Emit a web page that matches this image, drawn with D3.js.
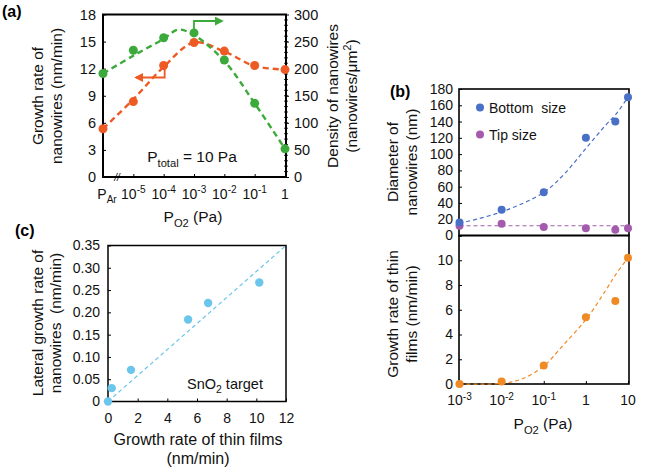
<!DOCTYPE html>
<html>
<head>
<meta charset="utf-8">
<script src="https://cdn.jsdelivr.net/npm/d3@7"></script>
<style>
  body { margin: 0; background: #fff; }
  svg { font-family: "Liberation Sans", Arial, sans-serif; }
</style>
</head>
<body>
<div id="winArea"></div>
<script>
// ---- panel (a) data ----
const aPressure = [1e-6, 1e-5, 1e-4, 1e-3, 1e-2, 1e-1, 1];   // 1e-6 stands in for "P_Ar"
const aTickLabels = ["P_{Ar}", "10^{-5}", "10^{-4}", "10^{-3}", "10^{-2}", "10^{-1}", "1"];
const aGrowth = [5.35, 8.35, 12.35, 14.9, 13.95, 12.35, 11.9];
const aDensity = [191, 234, 257, 266, 216, 136, 52];
const aGrowthFitX = [1e-6, 1e-5, 1e-4, 1e-3, 1e-2, 1e-1, 1];
const aGrowthFit = [5.35, 8.6, 12.2, 14.9, 13.9, 12.3, 11.9];
const aDensityFitX = [1e-6, 1e-5, 1e-4, 3e-4, 1e-3, 1e-2, 1e-1, 1];
const aDensityFit = [191, 224, 255, 272, 262, 214, 136, 52];
const aLeftTicks = [0, 3, 6, 9, 12, 15, 18];
const aRightTicks = [0, 50, 100, 150, 200, 250, 300];

// ---- panel (b) data ----
const bPressure = [1e-3, 1e-2, 1e-1, 1, 5, 10];
const bTickLabels = ["10^{-3}", "10^{-2}", "10^{-1}", "1", "10"];
const bTickVals = [1e-3, 1e-2, 1e-1, 1, 10];
const bBottom = [16, 31.5, 53, 120, 140, 170];
const bTip = [12, 14.5, 10.5, 9, 7, 9];
const bBottomFitX = [1e-3, 1e-2, 1e-1, 0.3, 1, 3, 5, 10];
const bBottomFit = [15, 29, 53, 75, 107, 136, 148, 170];
const bTipFit = [12, 12];
const bFilm = [0, 0.2, 1.5, 5.4, 6.7, 10.2];
const bFilmFitX = [1e-3, 1e-2, 3e-2, 1e-1, 0.3, 1, 3, 5, 10];
const bFilmFit = [0, 0.05, 0.4, 1.45, 3.2, 5.2, 7.6, 8.8, 10.2];
const bTopTicks = [0, 20, 40, 60, 80, 100, 120, 140, 160, 180];
const bLowTicks = [0, 2, 4, 6, 8, 10, 12];

// ---- panel (c) data ----
const cFilm = [0, 0.25, 1.55, 5.4, 6.75, 10.2];
const cLateral = [0, 0.03, 0.071, 0.184, 0.221, 0.267];
const cFitX = [0, 12];
const cFitY = [0, 0.35];
const cXTicks = [0, 2, 4, 6, 8, 10, 12];
const cYTicks = [0, 0.05, 0.10, 0.15, 0.20, 0.25, 0.30, 0.35];

const orangeA = "#ee5a24", greenA = "#3caa3a";
const blueB = "#4a6fc6", purpleB = "#a45bae", orangeB = "#f08a24";
const blueC = "#6cc5ea";

const svg = d3.select("#winArea").append("svg")
  .attr("width", 648).attr("height", 472);

// writes "10^{-3}" / "P_{Ar}" as text with tspans
function richText(sel, str, size) {
  const parts = str.split(/([\^_]\{[^}]*\})/).filter(s => s.length);
  let shift = 0;
  parts.forEach(p => {
    if (p[0] === "^" || p[0] === "_") {
      const up = p[0] === "^";
      const dy = up ? -size * 0.38 : size * 0.3;
      sel.append("tspan").attr("dy", dy - shift).attr("font-size", size * 0.72).text(p.slice(2, -1));
      shift = dy;
    } else {
      sel.append("tspan").attr("dy", -shift).text(p);
      shift = 0;
    }
  });
}

function frame(x0, y0, x1, y1, w) {
  svg.append("rect").attr("x", x0).attr("y", y0)
    .attr("width", x1 - x0).attr("height", y1 - y0)
    .attr("fill", "none").attr("stroke", "#000").attr("stroke-width", w);
}

function styleAxis(g, fs) {
  g.select(".domain").remove();
  g.selectAll(".tick line").attr("stroke", "#000").attr("stroke-width", 1);
  g.selectAll(".tick text").attr("font-size", fs).attr("fill", "#111");
}

function vLabel(x, y, txt, fs) {
  const t = svg.append("text").attr("transform", `translate(${x},${y}) rotate(-90)`)
    .attr("text-anchor", "middle").attr("font-size", fs).attr("fill", "#111");
  richText(t, txt, fs);
  return t;
}

function hText(x, y, txt, fs, anchor) {
  const t = svg.append("text").attr("x", x).attr("y", y)
    .attr("text-anchor", anchor || "middle").attr("font-size", fs).attr("fill", "#111");
  richText(t, txt, fs);
  return t;
}

// ================= panel (a) =================
const xA = d3.scaleLog().domain([1e-6, 1]).range([103, 285]);
const yA = d3.scaleLinear().domain([0, 18]).range([177, 14.5]);
const yA2 = d3.scaleLinear().domain([0, 300]).range([177, 14.5]);

let g = svg.append("g").attr("transform", "translate(103,0)")
  .call(d3.axisLeft(yA).tickValues(aLeftTicks).tickSize(-3).tickPadding(7));
styleAxis(g, 14.5);

g = svg.append("g").attr("transform", "translate(286,0)")
  .call(d3.axisRight(yA2).tickValues(aRightTicks).tickSize(3).tickPadding(5));
styleAxis(g, 14.5);
// minor ticks on right axis
svg.append("g").selectAll("line")
  .data(d3.range(10, 300, 10))
  .join("line")
  .attr("x1", 284).attr("x2", 288)
  .attr("y1", d => yA2(d)).attr("y2", d => yA2(d))
  .attr("stroke", "#000").attr("stroke-width", 0.8);

g = svg.append("g").attr("transform", "translate(0,177)")
  .call(d3.axisBottom(xA).tickValues(aPressure.slice(1)).tickSize(-3).tickFormat(""));
styleAxis(g, 14);
aPressure.forEach((v, i) => {
  hText(xA(v) + (i === 0 ? 4 : 0), 198.5, aTickLabels[i], 14);
});
frame(103, 14.5, 286, 177, 2);
// axis break mark
svg.append("text").attr("x", 117).attr("y", 181).attr("text-anchor", "middle")
  .attr("font-size", 10).attr("font-style", "italic").text("//");

const lineA = d3.line().curve(d3.curveCatmullRom.alpha(0.5));
svg.append("path")
  .attr("d", lineA(aGrowthFitX.map((v, i) => [xA(v), yA(aGrowthFit[i])])))
  .attr("fill", "none").attr("stroke", orangeA).attr("stroke-width", 2.4).attr("stroke-dasharray", "6,4");
svg.append("path")
  .attr("d", lineA(aDensityFitX.map((v, i) => [xA(v), yA2(aDensityFit[i])])))
  .attr("fill", "none").attr("stroke", greenA).attr("stroke-width", 2.4).attr("stroke-dasharray", "6,4");

svg.append("g").selectAll("circle").data(aPressure).join("circle")
  .attr("cx", d => xA(d)).attr("cy", (d, i) => yA(aGrowth[i])).attr("r", 4.5).attr("fill", orangeA);
svg.append("g").selectAll("circle").data(aPressure).join("circle")
  .attr("cx", d => xA(d)).attr("cy", (d, i) => yA2(aDensity[i])).attr("r", 4.5).attr("fill", greenA);

// arrows pointing to the axes
svg.append("defs").html(
  `<marker id="arG" viewBox="0 0 10 10" refX="8" refY="5" markerWidth="5" markerHeight="5" orient="auto"><path d="M0,0L10,5L0,10z" fill="${greenA}"/></marker>` +
  `<marker id="arO" viewBox="0 0 10 10" refX="8" refY="5" markerWidth="5" markerHeight="5" orient="auto"><path d="M0,0L10,5L0,10z" fill="${orangeA}"/></marker>`);
svg.append("path").attr("d", `M${xA(1e-3)},${yA2(270)} V21 H222`)
  .attr("fill", "none").attr("stroke", greenA).attr("stroke-width", 1.8).attr("marker-end", "url(#arG)");
svg.append("path").attr("d", `M${xA(1e-4) + 1},${yA(12.2)} V77.5 H136`)
  .attr("fill", "none").attr("stroke", orangeA).attr("stroke-width", 1.8).attr("marker-end", "url(#arO)");

hText(192, 162, "P_{total} = 10 Pa", 15.5);
hText(193, 222, "P_{O2} (Pa)", 15.5);
vLabel(43, 96, "Growth rate of", 15.5);
vLabel(62, 96, "nanowires (nm/min)", 15.5);
vLabel(338, 96, "Density of nanowires", 15.5);
vLabel(357, 96, "(nanowires/\u03bcm^{2})", 15.5);
svg.append("text").attr("x", 2).attr("y", 17).attr("font-size", 16).attr("font-weight", "bold").text("(a)");

// ================= panel (b) =================
const xB = d3.scaleLog().domain([1e-3, 10]).range([459.5, 628]);
const yB1 = d3.scaleLinear().domain([0, 180]).range([235.5, 89]);
const yB2 = d3.scaleLinear().domain([0, 12]).range([384, 235.5]);

g = svg.append("g").attr("transform", "translate(459,0)")
  .call(d3.axisLeft(yB1).tickValues(bTopTicks).tickSize(-3).tickPadding(6));
styleAxis(g, 14);
g = svg.append("g").attr("transform", "translate(459,0)")
  .call(d3.axisLeft(yB2).tickValues(bLowTicks).tickSize(-3).tickPadding(6)
    .tickFormat(d => d === 12 ? "" : d));
styleAxis(g, 14);
g = svg.append("g").attr("transform", "translate(0,384)")
  .call(d3.axisBottom(xB).tickValues(bTickVals).tickSize(-3).tickFormat(""));
styleAxis(g, 14);
bTickVals.forEach((v, i) => hText(xB(v), 405, bTickLabels[i], 14));

frame(459, 89, 629, 235.5, 1.6);
frame(459, 235.5, 629, 384, 1.6);

const lineB = d3.line().curve(d3.curveCatmullRom.alpha(0.5));
svg.append("path")
  .attr("d", lineB(bBottomFitX.map((v, i) => [xB(v), yB1(bBottomFit[i])])))
  .attr("fill", "none").attr("stroke", blueB).attr("stroke-width", 1.2).attr("stroke-dasharray", "4,3");
svg.append("path")
  .attr("d", lineB([[xB(1e-3), yB1(bTipFit[0])], [xB(10), yB1(bTipFit[1])]]))
  .attr("fill", "none").attr("stroke", purpleB).attr("stroke-width", 1.2).attr("stroke-dasharray", "4,3");
svg.append("path")
  .attr("d", lineB(bFilmFitX.map((v, i) => [xB(v), yB2(bFilmFit[i])])))
  .attr("fill", "none").attr("stroke", orangeB).attr("stroke-width", 1.2).attr("stroke-dasharray", "4,3");

svg.append("g").selectAll("circle").data(bPressure).join("circle")
  .attr("cx", d => xB(d)).attr("cy", (d, i) => yB1(bTip[i])).attr("r", 4).attr("fill", purpleB);
svg.append("g").selectAll("circle").data(bPressure).join("circle")
  .attr("cx", d => xB(d)).attr("cy", (d, i) => yB1(bBottom[i])).attr("r", 4).attr("fill", blueB);
svg.append("g").selectAll("circle").data(bPressure).join("circle")
  .attr("cx", d => xB(d)).attr("cy", (d, i) => yB2(bFilm[i])).attr("r", 4).attr("fill", orangeB);

// legend
const legB = [["Bottom  size", blueB], ["Tip size", purpleB]];
legB.forEach((d, i) => {
  svg.append("circle").attr("cx", 480).attr("cy", 107.5 + i * 27).attr("r", 4).attr("fill", d[1]);
  svg.append("text").attr("x", 489).attr("y", 112.5 + i * 27).attr("font-size", 14).attr("fill", "#111")
    .attr("xml:space", "preserve").style("white-space", "pre").text(d[0]);
});

vLabel(398, 162, "Diameter of", 15.5);
vLabel(417, 162, "nanowires (nm)", 15.5);
vLabel(398, 314, "Growth rate of thin", 15.5);
vLabel(417, 314, "films (nm/min)", 15.5);
hText(543, 429, "P_{O2} (Pa)", 15.5);
svg.append("text").attr("x", 390).attr("y", 97).attr("font-size", 16).attr("font-weight", "bold").text("(b)");

// ================= panel (c) =================
const xC = d3.scaleLinear().domain([0, 12]).range([108, 286]);
const yC = d3.scaleLinear().domain([0, 0.35]).range([401.5, 245.5]);

g = svg.append("g").attr("transform", "translate(108,0)")
  .call(d3.axisLeft(yC).tickValues(cYTicks).tickSize(-3).tickPadding(8)
    .tickFormat(d => d === 0 ? "0" : d3.format(".2f")(d)));
styleAxis(g, 14);
g = svg.append("g").attr("transform", "translate(0,401.5)")
  .call(d3.axisBottom(xC).tickValues(cXTicks).tickSize(-3).tickPadding(12));
styleAxis(g, 14);
frame(108, 245.5, 286, 401.5, 1.5);

svg.append("path")
  .attr("d", d3.line()(cFitX.map((v, i) => [xC(v), yC(cFitY[i])])))
  .attr("fill", "none").attr("stroke", blueC).attr("stroke-width", 1.2).attr("stroke-dasharray", "4,3");
svg.append("g").selectAll("circle").data(cFilm).join("circle")
  .attr("cx", d => xC(d)).attr("cy", (d, i) => yC(cLateral[i])).attr("r", 4.2).attr("fill", blueC);

hText(187, 389, "SnO_{2} target", 14.5, "start");
vLabel(43, 323, "Lateral growth rate of", 15.5);
vLabel(61, 323, "nanowires  (nm/min)", 15.5).style("white-space", "pre");
hText(198, 445, "Growth rate of thin films", 16);
hText(198, 464, "(nm/min)", 16);
svg.append("text").attr("x", 15).attr("y", 236).attr("font-size", 16).attr("font-weight", "bold").text("(c)");
</script>
</body>
</html>
